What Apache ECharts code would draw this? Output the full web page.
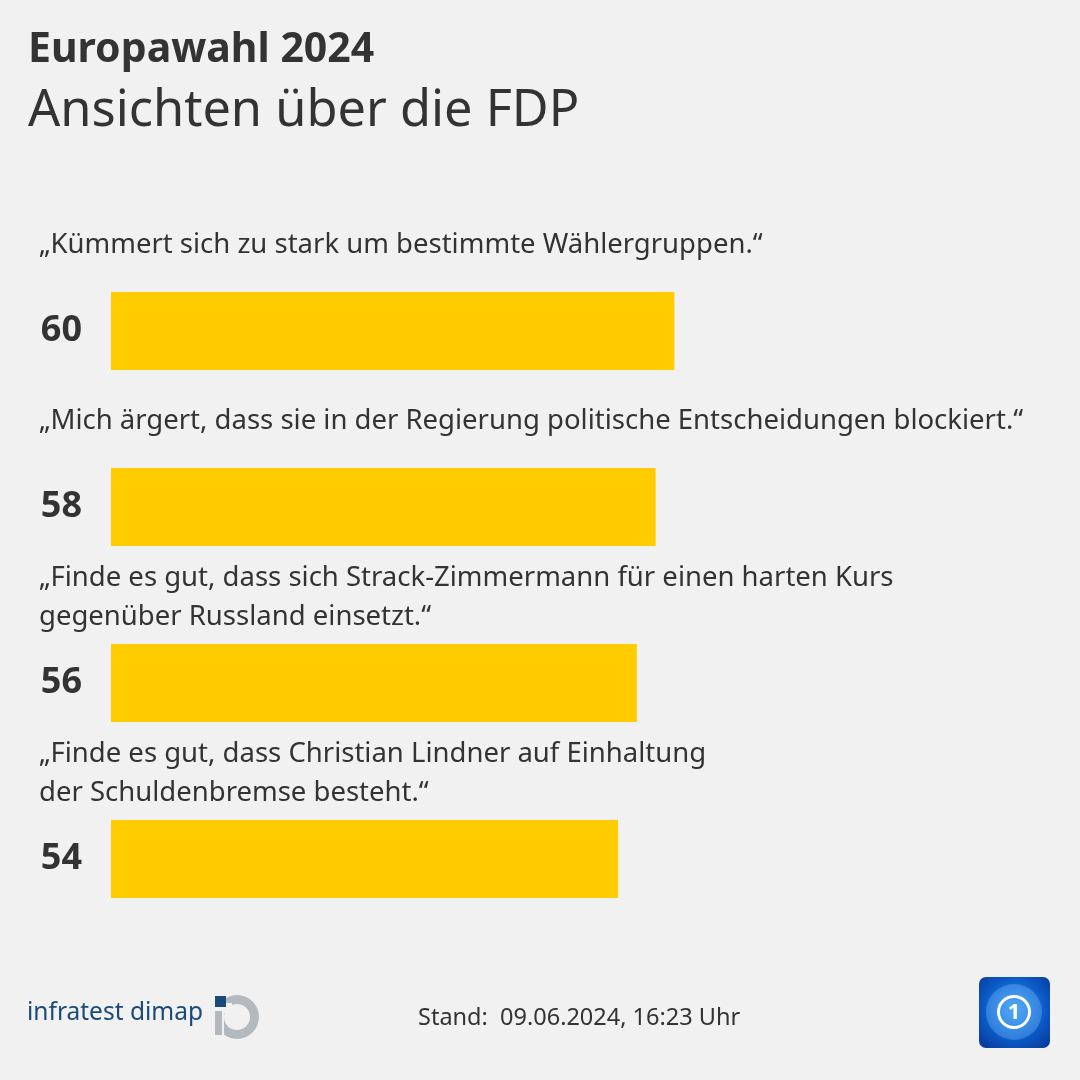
<!DOCTYPE html>
<html><head><meta charset="utf-8">
<script src="https://cdn.jsdelivr.net/npm/echarts@6/dist/echarts.min.js"></script>
<style>html,body{margin:0;padding:0;background:#f1f1f1}#c{width:1080px;height:1080px}</style>
</head><body><div id="c"></div>
<script>
var categories = [
  '„Kümmert sich zu stark um bestimmte Wählergruppen.“',
  '„Mich ärgert, dass sie in der Regierung politische Entscheidungen blockiert.“',
  '„Finde es gut, dass sich Strack-Zimmermann für einen harten Kurs\ngegenüber Russland einsetzt.“',
  '„Finde es gut, dass Christian Lindner auf Einhaltung\nder Schuldenbremse besteht.“'
];
var values = [60, 58, 56, 54];
var title = 'Europawahl 2024';
var subtitle = 'Ansichten über die FDP';
var footer = 'Stand:  09.06.2024, 16:23 Uhr';

var FONT = '"Noto Sans", sans-serif';
var chart = echarts.init(document.getElementById('c'));
var option = {
  backgroundColor: '#f1f1f1',
  animation: false,
  grid: {left: 111, right: 30, top: 243, height: 704},
  xAxis: {type: 'value', min: 0, max: 100, show: false},
  yAxis: {type: 'category', data: categories, inverse: true, show: false},
  series: [{
    type: 'bar', data: values, barWidth: 78,
    itemStyle: {color: '#ffcc00'},
    label: {show: true, position: 'left', distance: 29, color: '#333', fontFamily: FONT, fontWeight: 'bold', fontSize: 36}
  }],
  graphic: []
};
chart.setOption(option);

var g = [
  {type: 'text', left: 28, top: 30, style: {text: title, font: 'bold 41px ' + FONT, fill: '#333'}},
  {type: 'text', left: 28, top: 86, style: {text: subtitle, font: '50.5px ' + FONT, fill: '#333'}},
  {type: 'text', left: 418, top: 1006, style: {text: footer, font: '23.5px ' + FONT, fill: '#333'}},
  {type: 'text', left: 27, top: 1001, style: {text: 'infratest dimap', font: '24.5px ' + FONT, fill: '#1a4a7a'}},
  {type: 'ring', shape: {cx: 237, cy: 1017, r: 22, r0: 13}, style: {fill: '#b4b9be'}},
  {type: 'rect', shape: {x: 212, y: 1003, width: 20, height: 10}, style: {fill: '#f1f1f1'}},
  {type: 'rect', shape: {x: 212, y: 1010, width: 12, height: 28}, style: {fill: '#f1f1f1'}},
  {type: 'rect', shape: {x: 215, y: 996, width: 11, height: 11}, style: {fill: '#1a4a7a'}},
  {type: 'rect', shape: {x: 215, y: 1011, width: 7, height: 24}, style: {fill: '#b4b9be'}},
  {type: 'rect', shape: {x: 979, y: 977, width: 71, height: 71, r: 7},
    style: {fill: {type: 'radial', x: 0.5, y: 0.45, r: 0.7, colorStops: [{offset: 0, color: '#3aa0f0'}, {offset: 0.6, color: '#0b5bc8'}, {offset: 1, color: '#083a9a'}]}}},
  {type: 'circle', shape: {cx: 1014, cy: 1012, r: 28}, style: {fill: 'rgba(120,190,255,0.35)'}},
  {type: 'ring', shape: {cx: 1014, cy: 1012, r: 17, r0: 14}, style: {fill: '#ffffff'}},
  {type: 'text', x: 1014, y: 1013, style: {text: '1', font: 'bold 22px ' + FONT, fill: '#ffffff', align: 'center', verticalAlign: 'middle'}}
];
categories.forEach(function (c, i) {
  var p = chart.convertToPixel({seriesIndex: 0}, [0, i]);
  var barTop = p[1] - 39;
  var lines = c.split('\n').length;
  var top = lines === 1 ? barTop - 66 : barTop - 85;
  g.push({type: 'text', left: 39, top: top, style: {text: c, font: '27.5px ' + FONT, fill: '#333', lineHeight: 39}});
});
chart.setOption({graphic: g});
</script></body></html>
